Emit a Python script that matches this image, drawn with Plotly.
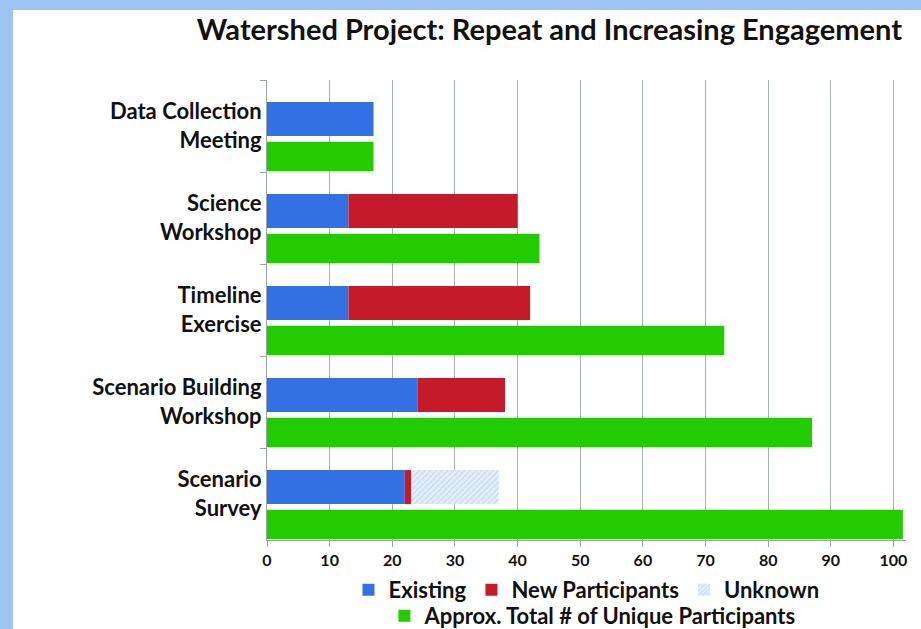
import plotly.graph_objects as go

events = ["Data Collection<br>Meeting", "Science<br>Workshop", "Timeline<br>Exercise",
          "Scenario Building<br>Workshop", "Scenario<br>Survey"]
existing = [17, 13, 13, 24, 22]
new_participants = [0, 27, 29, 14, 1]
unknown = [0, 0, 0, 0, 14]
total_unique = [17, 43.5, 73, 87, 101.5]

FONT = "Lato"
BOLD = dict(family=FONT, color="#111111", weight="bold")

# stacked bar sits in the upper part of each slot, green total bar at the bottom
top_bar = dict(offsetgroup="a", offset=-0.26, width=0.37)
low_bar = dict(offsetgroup="b", offset=0.17, width=0.32)

fig = go.Figure()
fig.add_trace(go.Bar(y=events, x=existing, orientation="h", name="Existing",
                     marker=dict(color="#3270e4", line=dict(width=0)),
                     legend="legend", **top_bar))
fig.add_trace(go.Bar(y=events, x=new_participants, orientation="h", name="New Participants",
                     marker=dict(color="#c41a2a", line=dict(width=0)),
                     legend="legend", **top_bar))
fig.add_trace(go.Bar(y=events, x=unknown, orientation="h", name="Unknown",
                     marker=dict(color="#e4eff9", line=dict(width=0),
                                 pattern=dict(shape="/", fgcolor="#a8c8e8", size=4, solidity=0.35)),
                     legend="legend", **top_bar))
fig.add_trace(go.Bar(y=events, x=total_unique, orientation="h",
                     name="Approx. Total # of Unique Participants",
                     marker=dict(color="#22cc00", line=dict(width=0)),
                     legend="legend2", **low_bar))

fig.update_layout(
    width=921, height=629,
    paper_bgcolor="white", plot_bgcolor="white",
    margin=dict(l=267, r=15, t=80, b=89, autoexpand=False),
    barmode="relative",
    font=dict(family=FONT, color="#111111"),
    title=dict(text="Watershed Project: Repeat and Increasing Engagement",
               x=902/921, xanchor="right", y=1 - 30/629, yanchor="middle",
               font=dict(size=29, **BOLD)),
    xaxis=dict(range=[0, 102], dtick=10, showgrid=True, gridcolor="#a8b0b0", gridwidth=1,
               showline=True, linecolor="#9aa4a4", linewidth=1,
               ticks="outside", ticklen=6, tickcolor="#9aa4a4",
               tickfont=dict(size=16, **BOLD), zeroline=False),
    yaxis=dict(autorange="reversed", showline=True, linecolor="#9aa4a4", linewidth=1,
               ticks="outside", ticklen=6, tickcolor="#9aa4a4", tickson="boundaries",
               tickfont=dict(size=22, **BOLD), showgrid=False),
    legend=dict(orientation="h", x=0.5, xanchor="center", y=-50/460, yanchor="middle",
                font=dict(size=22, **BOLD), traceorder="normal", itemwidth=30,
                bgcolor="rgba(0,0,0,0)"),
    legend2=dict(orientation="h", x=0.51, xanchor="center", y=-76/460, yanchor="middle",
                 font=dict(size=22, **BOLD), itemwidth=30, bgcolor="rgba(0,0,0,0)"),
    shapes=[
        dict(type="rect", xref="paper", yref="paper", x0=-267/639, x1=-254/639,
             y0=-89/460, y1=1 + 80/460, fillcolor="#9ec5f2", line=dict(width=0), layer="below"),
        dict(type="rect", xref="paper", yref="paper", x0=-267/639, x1=1 + 15/639,
             y0=1 + 70/460, y1=1 + 80/460, fillcolor="#9ec5f2", line=dict(width=0), layer="below"),
    ],
)

fig.write_html("out.html", config={"displayModeBar": False},
               post_script="document.body.style.margin='0';")
